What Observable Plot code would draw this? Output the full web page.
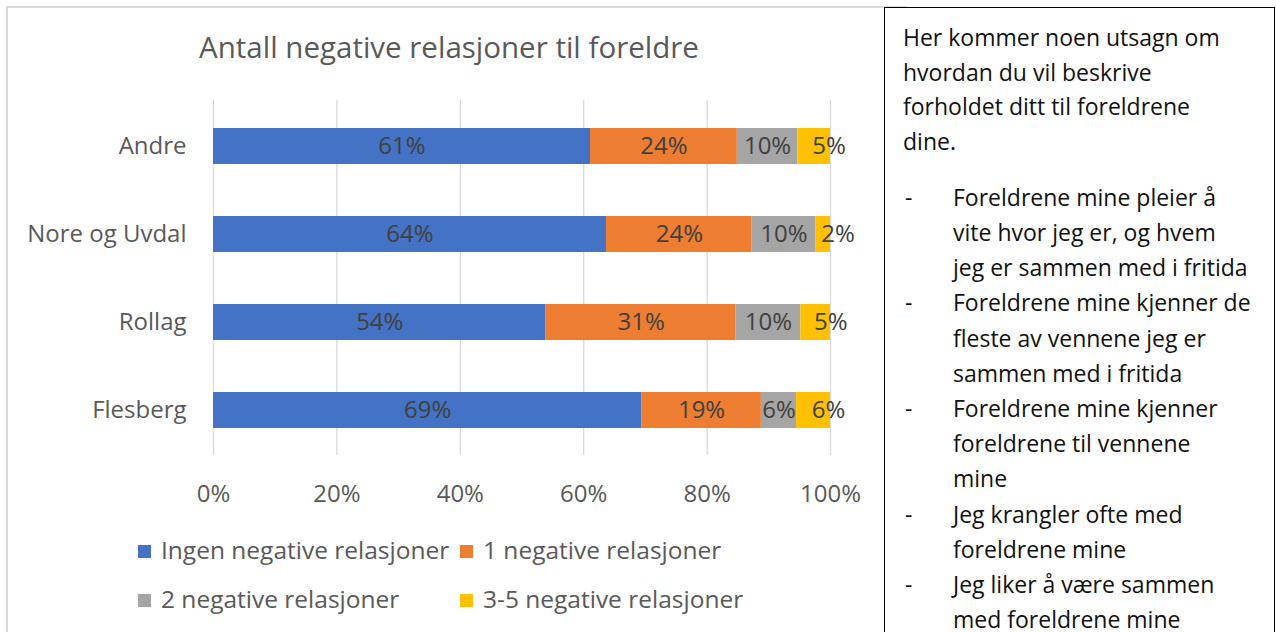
<!DOCTYPE html>
<html>
<head>
<meta charset="utf-8">
<script src="https://cdn.jsdelivr.net/npm/d3@7"></script>
<script src="https://cdn.jsdelivr.net/npm/@observablehq/plot@0.6"></script>
<style>
  html, body { margin: 0; padding: 0; background: #fff; }
  body { width: 1276px; height: 632px; overflow: hidden; position: relative; font-family: "Open Sans", sans-serif; }
  #chartbox { position: absolute; left: 6px; top: 6px; width: 900px; height: 700px; border: 2px solid #d9d9d9; box-sizing: border-box; }
  #plot { position: absolute; left: 0; top: 0; }
  #title { position: absolute; left: 10px; width: 878px; top: 27px; text-align: center; font-size: 29.5px; color: #595959; line-height: 40px; }
  .leg { position: absolute; font-size: 24.5px; color: #595959; line-height: 30px; white-space: nowrap; }
  .sw { position: absolute; width: 13px; height: 13px; }
  #textbox { position: absolute; left: 884px; top: 7px; width: 391px; height: 700px; border: 1px solid #000; box-sizing: border-box; background: #fff; padding: 12px 0 0 18px; font-size: 23px; line-height: 34.7px; color: #111; }
  #textbox ul { list-style: none; margin: 21px 0 0 0; padding: 0; }
  #textbox li { position: relative; padding-left: 50px; line-height: 35.2px; white-space: nowrap; }
  #textbox li::before { content: "-"; position: absolute; left: 2px; }
</style>
</head>
<body>
<div id="chartbox"></div>
<div id="plot"></div>
<div id="title">Antall negative relasjoner til foreldre</div>
<div id="legend"></div>
<div id="textbox">
  Her kommer noen utsagn om<br>hvordan du vil beskrive<br>forholdet ditt til foreldrene<br>dine.
  <ul>
    <li>Foreldrene mine pleier å<br>vite hvor jeg er, og hvem<br>jeg er sammen med i fritida</li>
    <li>Foreldrene mine kjenner de<br>fleste av vennene jeg er<br>sammen med i fritida</li>
    <li>Foreldrene mine kjenner<br>foreldrene til vennene<br>mine</li>
    <li>Jeg krangler ofte med<br>foreldrene mine</li>
    <li>Jeg liker å være sammen<br>med foreldrene mine</li>
  </ul>
</div>
<script>
const regions = ["Andre", "Nore og Uvdal", "Rollag", "Flesberg"];
const categories = ["Ingen negative relasjoner", "1 negative relasjoner", "2 negative relasjoner", "3-5 negative relasjoner"];
const colors = ["#4472C4", "#ED7D31", "#A5A5A5", "#FFC000"];
// shares (%) per category, in the order of regions
const ingen = [61.1, 63.7, 53.9, 69.4];
const en = [23.8, 23.6, 30.8, 19.4];
const to = [9.8, 10.3, 10.5, 5.7];
const treFem = [5.3, 2.4, 4.8, 5.5];
const labelsIngen = ["61%", "64%", "54%", "69%"];
const labelsEn = ["24%", "24%", "31%", "19%"];
const labelsTo = ["10%", "10%", "10%", "6%"];
const labelsTreFem = ["5%", "2%", "5%", "6%"];
const xTicks = [0, 20, 40, 60, 80, 100];
const xTickLabels = ["0%", "20%", "40%", "60%", "80%", "100%"];

const series = [ingen, en, to, treFem];
const seriesLabels = [labelsIngen, labelsEn, labelsTo, labelsTreFem];
const data = [];
categories.forEach((c, ci) => {
  regions.forEach((r, ri) => {
    data.push({region: r, cat: c, value: series[ci][ri], label: seriesLabels[ci][ri]});
  });
});

const last = categories[categories.length - 1];
const stackOpts = {x: "value", y: "region", z: "cat", order: categories};
const chart = Plot.plot({
  width: 884,
  height: 520,
  marginTop: 100,
  marginBottom: 65,
  marginLeft: 213,
  marginRight: 54,
  style: {fontFamily: "'Open Sans', sans-serif", background: "transparent", overflow: "visible"},
  x: {domain: [0, 100], label: null},
  y: {domain: regions, paddingInner: 0.595, paddingOuter: 0.2975, label: null},
  color: {domain: categories, range: colors},
  marks: [
    Plot.ruleX(xTicks, {stroke: "#d9d9d9", strokeWidth: 1.3}),
    Plot.barX(data, Plot.stackX({...stackOpts, fill: "cat"})),
    Plot.text(data, Plot.stackX({...stackOpts, text: d => d.cat !== last ? d.label : null, fill: "#404040", fontSize: 24})),
    Plot.text(data, Plot.stackX({...stackOpts, text: d => d.cat === last ? d.label : null, fill: "#404040", fontSize: 24, dx: 15})),
    Plot.axisX({ticks: xTicks, tickFormat: (d) => xTickLabels[xTicks.indexOf(d)], tickSize: 0, tickPadding: 29, fontSize: 24, color: "#595959", label: null}),
    Plot.axisY({tickSize: 0, tickPadding: 27, fontSize: 24, color: "#595959", label: null})
  ]
});
document.getElementById("plot").appendChild(chart);

// legend
const legend = document.getElementById("legend");
const legPos = [
  {sx: 138, tx: 161, cy: 551},
  {sx: 460, tx: 483, cy: 551},
  {sx: 138, tx: 161, cy: 600},
  {sx: 460, tx: 483, cy: 600}
];
categories.forEach((c, i) => {
  const p = legPos[i];
  const sw = document.createElement("div");
  sw.className = "sw";
  sw.style.left = p.sx + "px";
  sw.style.top = (p.cy - 6.5) + "px";
  sw.style.background = colors[i];
  legend.appendChild(sw);
  const t = document.createElement("div");
  t.className = "leg";
  t.style.left = p.tx + "px";
  t.style.top = (p.cy - 16) + "px";
  t.textContent = c;
  legend.appendChild(t);
});
</script>
</body>
</html>
